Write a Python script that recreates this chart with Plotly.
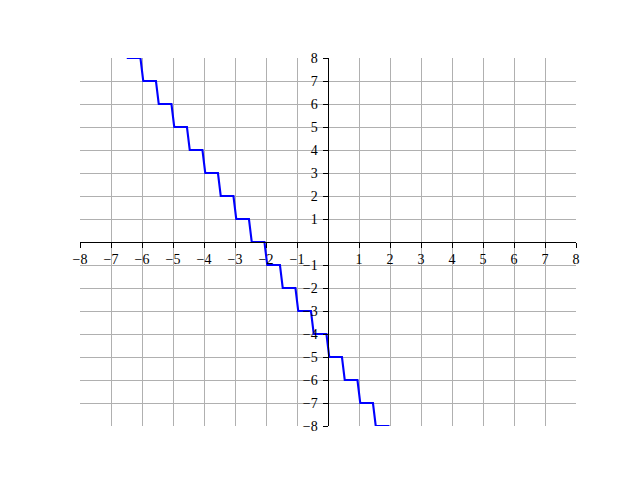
import plotly.graph_objects as go

# Step levels (y) and the x positions where the function drops one level
step_levels = [9, 8, 7, 6, 5, 4, 3, 2, 1, 0, -1, -2, -3, -4, -5, -6, -7, -8, -9]
drop_x = [-6.5, -6.0, -5.5, -5.0, -4.5, -4.0, -3.5, -3.0, -2.5, -2.0,
          -1.5, -1.0, -0.5, 0.0, 0.5, 1.0, 1.5, 2.0]
x_start, x_end = -7.0, 2.5
riser_before, riser_after = 0.05, 0.04

tick_vals = [-8, -7, -6, -5, -4, -3, -2, -1, 1, 2, 3, 4, 5, 6, 7, 8]
tick_text = [("\u2212" + str(-v)) if v < 0 else str(v) for v in tick_vals]

xs = [x_start]
ys = [step_levels[0]]
for i, b in enumerate(drop_x):
    xs += [b - riser_before, b + riser_after]
    ys += [step_levels[i], step_levels[i + 1]]
xs.append(x_end)
ys.append(step_levels[-1])

fig = go.Figure()
fig.add_trace(go.Scatter(x=xs, y=ys, mode="lines",
                         line=dict(color="#0000ff", width=2.1),
                         showlegend=False, hoverinfo="skip"))

axis_common = dict(
    range=[-8, 8], tickmode="array", tickvals=tick_vals, ticktext=tick_text,
    showgrid=True, gridcolor="#b0b0b0", gridwidth=1.1,
    zeroline=False, showline=True, linecolor="black", linewidth=1.1,
    ticks="outside", ticklen=4.5, tickwidth=1.1, tickcolor="black",
    anchor="free", position=0.5, automargin=False, fixedrange=True,
    tickfont=dict(family="Liberation Serif, Times New Roman, serif", size=14, color="black"),
)

fig.update_layout(
    width=640, height=480,
    margin=dict(l=72, r=72, t=50, b=62, pad=0),
    paper_bgcolor="white", plot_bgcolor="white",
    xaxis=dict(**axis_common, ticklabelstandoff=0),
    yaxis=dict(**axis_common, ticklabelstandoff=3),
)

fig.write_html("out.html")
